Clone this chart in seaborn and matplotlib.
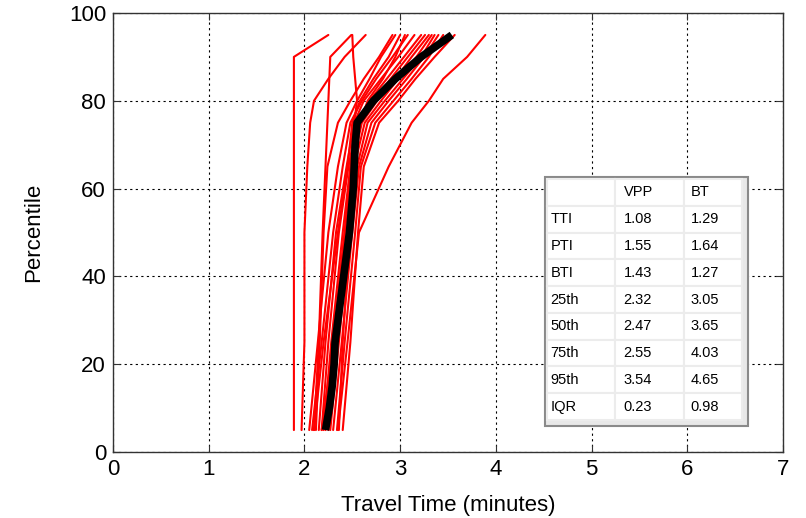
import numpy as np
import pandas as pd
import matplotlib
matplotlib.use("Agg")
import matplotlib.pyplot as plt
import seaborn as sns
from matplotlib.patches import Rectangle

pct_red = [5, 25, 50, 65, 75, 80, 85, 90, 95]
red_runs = [
    [1.89, 1.89, 1.89, 1.89, 1.89, 1.89, 1.89, 1.89, 2.25],
    [1.97, 2.00, 2.00, 2.03, 2.06, 2.10, 2.25, 2.42, 2.64],
    [2.10, 2.15, 2.19, 2.22, 2.24, 2.25, 2.26, 2.27, 2.49],
    [2.18, 2.30, 2.42, 2.48, 2.52, 2.55, 2.53, 2.51, 2.50],
    [2.12, 2.16, 2.20, 2.24, 2.35, 2.48, 2.62, 2.78, 2.92],
    [2.05, 2.14, 2.25, 2.35, 2.44, 2.55, 2.68, 2.80, 2.95],
    [2.08, 2.18, 2.30, 2.40, 2.48, 2.60, 2.75, 2.92, 3.08],
    [2.15, 2.22, 2.33, 2.44, 2.52, 2.62, 2.80, 2.98, 3.15],
    [2.18, 2.25, 2.36, 2.46, 2.55, 2.68, 2.86, 3.04, 3.22],
    [2.20, 2.28, 2.40, 2.48, 2.58, 2.72, 2.90, 3.08, 3.26],
    [2.22, 2.30, 2.42, 2.50, 2.60, 2.76, 2.95, 3.12, 3.30],
    [2.25, 2.33, 2.44, 2.52, 2.63, 2.80, 2.98, 3.17, 3.33],
    [2.27, 2.36, 2.47, 2.55, 2.66, 2.84, 3.03, 3.22, 3.36],
    [2.30, 2.39, 2.50, 2.57, 2.70, 2.88, 3.07, 3.25, 3.40],
    [2.34, 2.42, 2.53, 2.59, 2.74, 2.93, 3.12, 3.30, 3.45],
    [2.40, 2.48, 2.56, 2.62, 2.78, 2.98, 3.16, 3.36, 3.57],
    [2.36, 2.40, 2.47, 2.53, 2.58, 2.66, 2.82, 2.95, 3.05],
    [2.10, 2.20, 2.35, 2.45, 2.50, 2.58, 2.72, 2.88, 3.00],
    [2.35, 2.45, 2.57, 2.88, 3.12, 3.30, 3.45, 3.70, 3.89],
]

# VPP curve (black)
pct_vpp = [5, 10, 15, 20, 25, 30, 35, 40, 45, 50, 55, 60, 65, 70, 75, 80, 85, 90, 95]
vpp_time = [2.22, 2.26, 2.29, 2.31, 2.32, 2.35, 2.38, 2.41, 2.44, 2.47,
            2.49, 2.51, 2.52, 2.53, 2.55, 2.72, 2.95, 3.22, 3.54]

# summary table
row_names = ["TTI", "PTI", "BTI", "25th", "50th", "75th", "95th", "IQR"]
vpp_col = ["1.08", "1.55", "1.43", "2.32", "2.47", "2.55", "3.54", "0.23"]
bt_col = ["1.29", "1.64", "1.27", "3.05", "3.65", "4.03", "4.65", "0.98"]

sns.set_theme(style="white")
plt.rcParams['font.family'] = ['Liberation Sans', 'DejaVu Sans']
plt.rcParams['text.color'] = 'black'
plt.rcParams['axes.labelcolor'] = 'black'
plt.rcParams['xtick.color'] = 'black'
plt.rcParams['ytick.color'] = 'black'

rows = []
for i, run in enumerate(red_runs):
    for p, t in zip(pct_red, run):
        rows.append({"run": i, "pct": p, "time": t})
df_red = pd.DataFrame(rows)
df_vpp = pd.DataFrame({"pct": pct_vpp, "time": vpp_time})

fig = plt.figure(figsize=(8.06, 5.18), dpi=100)
ax = fig.add_axes([113 / 806, 66 / 518, 670 / 806, 439 / 518])

sns.lineplot(data=df_red, x="time", y="pct", units="run", estimator=None,
             sort=False, color="red", linewidth=1.5, ax=ax, legend=False)
sns.lineplot(data=df_vpp, x="time", y="pct", sort=False, estimator=None,
             color="black", linewidth=5.5, solid_capstyle="butt", ax=ax, legend=False)

ax.set_xlim(0, 7)
ax.set_ylim(0, 100)
ax.set_xticks(range(0, 8))
ax.set_yticks(range(0, 101, 20))
ax.grid(True, color="black", linestyle=(0, (2, 3)), linewidth=0.8)
ax.set_axisbelow(True)
for s in ax.spines.values():
    s.set_color("#333333")
    s.set_linewidth(1.0)
ax.tick_params(direction="in", length=5, width=0.8, color="#333333",
               labelsize=16, pad=5, top=True, right=True, bottom=True, left=True)
ax.set_xlabel("Travel Time (minutes)", fontsize=16, labelpad=11)
ax.set_ylabel("Percentile", fontsize=16, labelpad=18)

# table block
x0, x1 = (545 - 113) / 670, (748 - 113) / 670
y0, y1 = (452 - 426) / 439, (452 - 177) / 439
ax.add_patch(Rectangle((x0, y0), x1 - x0, y1 - y0, transform=ax.transAxes,
                       facecolor="#e8e8e8", edgecolor="#8a8a8a", linewidth=1.5, zorder=5))
cell_text = [["", "VPP", "BT"]] + [[r, a, b] for r, a, b in zip(row_names, vpp_col, bt_col)]
cx0, cx1 = (547 - 113) / 670, (742 - 113) / 670
cy0, cy1 = (452 - 420) / 439, (452 - 179) / 439
tbl = ax.table(cellText=cell_text, cellLoc="left", loc="center",
               bbox=[cx0, cy0, cx1 - cx0, cy1 - cy0], colWidths=[0.35, 0.35, 0.30])
tbl.auto_set_font_size(False)
tbl.set_fontsize(10.5)
tbl.set_zorder(6)
for (r, c), cell in tbl.get_celld().items():
    cell.set_facecolor("white")
    cell.set_edgecolor("#ececec")
    cell.set_linewidth(1.5)
    cell.PAD = 0.12 if c > 0 else 0.05
    cell.get_text().set_color("black")

fig.savefig("out.png", dpi=100)
